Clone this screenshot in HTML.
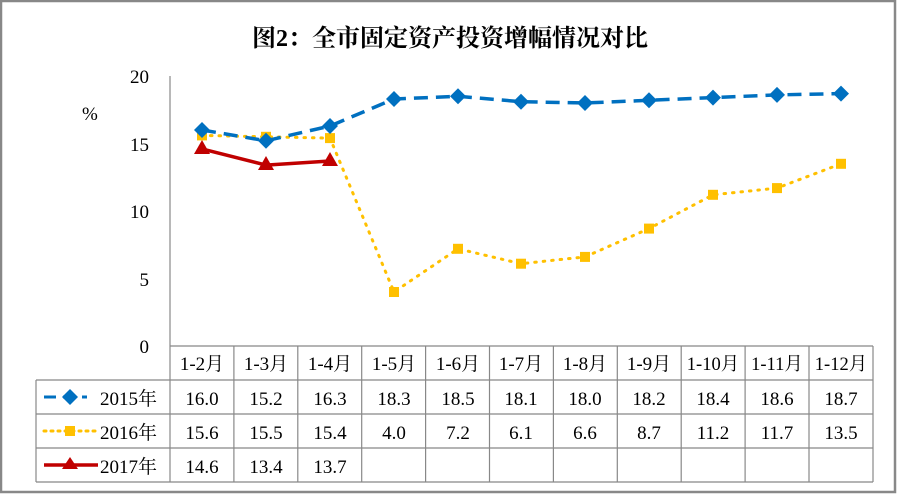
<!DOCTYPE html>
<html><head><meta charset="utf-8"><style>
html,body{margin:0;padding:0;background:#fff}
svg{display:block}
text{font-family:"Liberation Serif","Noto Serif CJK SC",serif;fill:#000}
</style></head><body>
<svg width="897" height="494" viewBox="0 0 897 494" xmlns="http://www.w3.org/2000/svg">
<rect x="1" y="1" width="894" height="491" fill="#fff" stroke="#888" stroke-width="2.5"/>
<text x="450" y="46" font-size="24" font-weight="bold" text-anchor="middle">图2：全市固定资产投资增幅情况对比</text>
<g font-size="19" text-anchor="end">
<text x="149" y="83">20</text><text x="149" y="151">15</text><text x="149" y="218">10</text><text x="149" y="286">5</text><text x="149" y="353">0</text>
</g>
<text x="82" y="120" font-size="19">%</text>
<g stroke="#888" stroke-width="1.2" fill="none">
<line x1="170" y1="76" x2="170" y2="482"/>
<line x1="170" y1="346" x2="873" y2="346"/>
<line x1="170" y1="380" x2="873" y2="380"/>
<line x1="36" y1="380" x2="170" y2="380"/>
<line x1="36" y1="414" x2="873" y2="414"/>
<line x1="36" y1="448" x2="873" y2="448"/>
<line x1="36" y1="482" x2="873" y2="482"/>
<line x1="36" y1="380" x2="36" y2="482"/>
<line x1="873" y1="346" x2="873" y2="482"/>
<line x1="233.9" y1="346" x2="233.9" y2="482"/><line x1="297.8" y1="346" x2="297.8" y2="482"/><line x1="361.7" y1="346" x2="361.7" y2="482"/><line x1="425.6" y1="346" x2="425.6" y2="482"/><line x1="489.5" y1="346" x2="489.5" y2="482"/><line x1="553.4" y1="346" x2="553.4" y2="482"/><line x1="617.3" y1="346" x2="617.3" y2="482"/><line x1="681.2" y1="346" x2="681.2" y2="482"/><line x1="745.1" y1="346" x2="745.1" y2="482"/><line x1="809" y1="346" x2="809" y2="482"/>
</g>
<g font-size="19" text-anchor="middle">
<g textLength="0">
<text x="202" y="370">1-2月</text><text x="266" y="370">1-3月</text><text x="330" y="370">1-4月</text><text x="394" y="370">1-5月</text><text x="458" y="370">1-6月</text><text x="521" y="370">1-7月</text><text x="585" y="370">1-8月</text><text x="649" y="370">1-9月</text><text x="713" y="370" font-size="18.5">1-10月</text><text x="777" y="370" font-size="18.5">1-11月</text><text x="841" y="370" font-size="18.5">1-12月</text>
</g>
<text x="202" y="405">16.0</text><text x="266" y="405">15.2</text><text x="330" y="405">16.3</text><text x="394" y="405">18.3</text><text x="458" y="405">18.5</text><text x="521" y="405">18.1</text><text x="585" y="405">18.0</text><text x="649" y="405">18.2</text><text x="713" y="405">18.4</text><text x="777" y="405">18.6</text><text x="841" y="405">18.7</text>
<text x="202" y="439">15.6</text><text x="266" y="439">15.5</text><text x="330" y="439">15.4</text><text x="394" y="439">4.0</text><text x="458" y="439">7.2</text><text x="521" y="439">6.1</text><text x="585" y="439">6.6</text><text x="649" y="439">8.7</text><text x="713" y="439">11.2</text><text x="777" y="439">11.7</text><text x="841" y="439">13.5</text>
<text x="202" y="473">14.6</text><text x="266" y="473">13.4</text><text x="330" y="473">13.7</text>
</g>
<g font-size="19">
<text x="100" y="405">2015年</text><text x="100" y="439">2016年</text><text x="100" y="473">2017年</text>
</g>
<!-- legend keys -->
<line x1="44" y1="397" x2="87" y2="397" stroke="#0070C0" stroke-width="3" stroke-dasharray="12,7"/>
<polygon points="70,389 78,397 70,405 62,397" fill="#0070C0"/>
<line x1="44" y1="431" x2="98" y2="431" stroke="#FFC000" stroke-width="3" stroke-dasharray="2,5" stroke-linecap="round"/>
<rect x="65" y="426" width="10" height="10" fill="#FFC000"/>
<line x1="44" y1="465" x2="98" y2="465" stroke="#C00000" stroke-width="3.5"/>
<polygon points="70,457 78,469 62,469" fill="#C00000"/>
<!-- 2016 -->
<polyline fill="none" stroke="#FFC000" stroke-width="3" stroke-dasharray="1.5,7" stroke-linecap="round" points="202,135.4 266,136.8 330,138.1 394,292 458,248.8 521,263.7 585,256.9 649,228.6 713,194.8 777,188.1 841,163.8"/>
<g fill="#FFC000">
<rect x="197" y="130.4" width="10" height="10"/><rect x="261" y="131.8" width="10" height="10"/><rect x="325" y="133.1" width="10" height="10"/><rect x="389" y="287" width="10" height="10"/><rect x="453" y="243.8" width="10" height="10"/><rect x="516" y="258.7" width="10" height="10"/><rect x="580" y="251.9" width="10" height="10"/><rect x="644" y="223.6" width="10" height="10"/><rect x="708" y="189.8" width="10" height="10"/><rect x="772" y="183.1" width="10" height="10"/><rect x="836" y="158.8" width="10" height="10"/>
</g>
<!-- 2015 -->
<polyline fill="none" stroke="#0070C0" stroke-width="3.5" stroke-dasharray="14,8" points="202,130 266,140.8 330,126 394,99 458,96.3 521,101.7 585,103 649,100.3 713,97.6 777,94.9 841,93.6"/>
<g fill="#0070C0">
<polygon points="202,122 210,130 202,138 194,130"/><polygon points="266,132.8 274,140.8 266,148.8 258,140.8"/><polygon points="330,118 338,126 330,134 322,126"/><polygon points="394,91 402,99 394,107 386,99"/><polygon points="458,88.3 466,96.3 458,104.3 450,96.3"/><polygon points="521,93.7 529,101.7 521,109.7 513,101.7"/><polygon points="585,95 593,103 585,111 577,103"/><polygon points="649,92.3 657,100.3 649,108.3 641,100.3"/><polygon points="713,89.6 721,97.6 713,105.6 705,97.6"/><polygon points="777,86.9 785,94.9 777,102.9 769,94.9"/><polygon points="841,85.6 849,93.6 841,101.6 833,93.6"/>
</g>
<!-- 2017 -->
<polyline fill="none" stroke="#C00000" stroke-width="3.5" points="202,148.9 266,165.1 330,161"/>
<g fill="#C00000">
<polygon points="202,140 210,154 194,154"/><polygon points="266,156 274,170 258,170"/><polygon points="330,152 338,166 322,166"/>
</g>
</svg>
</body></html>
